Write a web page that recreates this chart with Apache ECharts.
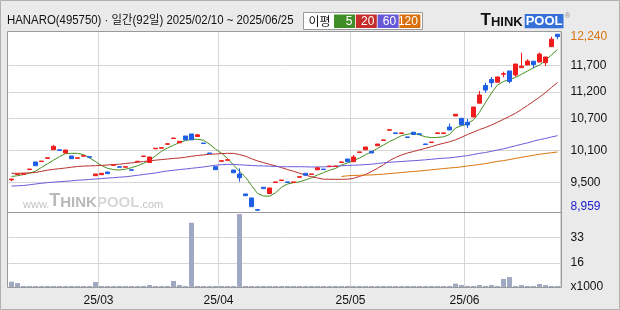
<!DOCTYPE html>
<html><head><meta charset="utf-8">
<script src="https://cdn.jsdelivr.net/npm/echarts@6.0.0/dist/echarts.min.js"></script>
<style>html,body{margin:0;padding:0;background:#eaeaea}#c{width:620px;height:310px}</style>
</head><body><div id="c"></div>
<script>
const titleText = 'HANARO(495750) · 일간(92일) 2025/02/10 ~ 2025/06/25';
const maLegendLabel = '이평';
const maLabels = ['5', '20', '60', '120'];
const dates = ['2025-02-10','2025-02-11','2025-02-12','2025-02-13','2025-02-14','2025-02-17','2025-02-18','2025-02-19','2025-02-20','2025-02-21','2025-02-24','2025-02-25','2025-02-26','2025-02-27','2025-02-28',
'2025-03-04','2025-03-05','2025-03-06','2025-03-07','2025-03-10','2025-03-11','2025-03-12','2025-03-13','2025-03-14','2025-03-17','2025-03-18','2025-03-19','2025-03-20','2025-03-21','2025-03-24','2025-03-25','2025-03-26','2025-03-27','2025-03-28','2025-03-31',
'2025-04-01','2025-04-02','2025-04-03','2025-04-04','2025-04-07','2025-04-08','2025-04-09','2025-04-10','2025-04-11','2025-04-14','2025-04-15','2025-04-16','2025-04-17','2025-04-18','2025-04-21','2025-04-22','2025-04-23','2025-04-24','2025-04-25','2025-04-28','2025-04-29','2025-04-30',
'2025-05-02','2025-05-07','2025-05-08','2025-05-09','2025-05-12','2025-05-13','2025-05-14','2025-05-15','2025-05-16','2025-05-19','2025-05-20','2025-05-21','2025-05-22','2025-05-23','2025-05-26','2025-05-27','2025-05-28','2025-05-29','2025-05-30',
'2025-06-02','2025-06-04','2025-06-05','2025-06-09','2025-06-10','2025-06-11','2025-06-12','2025-06-13','2025-06-16','2025-06-17','2025-06-18','2025-06-19','2025-06-20','2025-06-23','2025-06-24','2025-06-25'];
const opens = [9545,9648,9650,9738,9881,9888,9950,10112,10110,10050,
 9994,9952,9990,9980,9623,9642,9693,9818,9792,9783,
 9735,9885,9983,9871,10130,10140,10214,10322,10242,10370,
 10408,10360,10238,10050,9792,9895,9913,9730,9655,9279,
 9204,8985,9405,9288,9496,9532,9506,9496,9594,9668,
 9646,9734,9748,9795,9795,9872,9937,9885,10060,10110,
 10082,10186,10286,10478,10428,10418,10352,10441,10412,10220,
 10246,10418,10418,10539,10746,10703,10629,10727,10987,11320,
 11433,11382,11532,11593,11517,11655,11705,11777,11762,11749,
 12050,12285];
const closes = [9560,9658,9660,9748,9811,9898,9960,10176,10100,10106,
 9943,9960,10000,9970,9655,9668,9661,9826,9782,9792,
 9725,9895,9993,9975,10140,10150,10224,10332,10270,10298,
 10298,10392,10228,10040,9736,9905,9923,9678,9584,9247,
 9040,8975,9379,9392,9506,9542,9496,9506,9604,9632,
 9656,9772,9738,9805,9805,9882,9885,9975,10070,10163,
 10050,10219,10296,10488,10418,10428,10342,10398,10402,10210,
 10256,10428,10428,10483,10778,10577,10577,10915,11141,11235,
 11372,11480,11542,11395,11724,11683,11780,11715,11912,11856,
 12190,12240];
const lows = [9518,9648,9650,9738,9811,9888,9950,10112,10100,10050,
 9943,9952,9990,9970,9623,9642,9661,9818,9782,9783,
 9725,9885,9983,9871,10130,10140,10214,10322,10242,10298,
 10298,10360,10228,10040,9736,9895,9913,9678,9510,9247,
 9040,8959,9379,9288,9496,9532,9496,9496,9594,9632,
 9646,9734,9738,9795,9795,9872,9885,9885,10060,10110,
 10050,10186,10286,10478,10418,10418,10342,10398,10402,10210,
 10246,10418,10418,10483,10746,10577,10520,10727,10987,11184,
 11286,11382,11474,11361,11485,11655,11705,11643,11762,11687,
 12050,12189];
const highs = [9562,9658,9660,9748,9881,9898,9960,10200,10110,10106,
 9994,9960,10000,9980,9655,9668,9693,9826,9792,9792,
 9735,9895,9993,9975,10140,10150,10224,10332,10270,10370,
 10408,10407,10238,10050,9792,9905,9923,9730,9762,9279,
 9204,8985,9405,9392,9506,9542,9506,9506,9604,9668,
 9656,9772,9748,9805,9805,9882,9937,10012,10070,10163,
 10082,10219,10296,10488,10428,10428,10352,10441,10412,10220,
 10256,10428,10428,10605,10778,10703,10690,10915,11216,11372,
 11480,11480,11579,11593,11724,11937,11813,11777,11937,11856,
 12238,12285];
const volumes = [3.5,2.6,0.7,0.7,0.7,0.7,0.7,0.7,0.7,0.7,
 0.7,0.7,0.7,0.7,3.3,0.7,0.7,0.7,0.7,0.7,
 0.7,0.7,0.7,1.3,0.7,0.7,0.7,4.0,1.3,0.7,
 42.6,0.7,0.7,0.7,0.7,0.7,0.7,0.7,48.3,0.7,
 0.7,0.7,0.7,0.7,0.7,0.7,0.7,0.7,0.7,0.7,
 0.7,0.7,0.7,0.7,0.7,0.7,0.7,0.7,0.7,0.7,
 0.7,0.7,0.7,0.7,0.7,0.7,0.7,0.7,0.7,0.7,
 0.7,0.7,0.7,0.7,2.2,1.3,0.7,0.7,1.3,0.7,
 1.3,0.7,5.3,6.6,0.7,1.3,0.7,0.7,2.0,1.3,
 0.7,0.7];
const ma5 = [9608,9623,9644,9670,9708,9779,9847,9915,9982,10037,
 10044,10044,10020,9958,9888,9815,9762,9738,9730,9745,
 9775,9809,9856,9911,9997,10082,10144,10195,10249,10283,
 10308,10308,10291,10216,10125,10046,9947,9824,9706,9595,
 9439,9290,9241,9237,9301,9405,9467,9491,9508,9542,
 9584,9636,9681,9726,9759,9824,9862,9909,9956,10016,
 10073,10135,10201,10266,10317,10377,10404,10421,10389,10355,
 10338,10344,10353,10398,10520,10564,10599,10675,10816,11000,
 11179,11329,11395,11436,11470,11530,11592,11656,11702,11794,
 11897,11997];
const ma20 = [9668,9668,9672,9676,9683,9706,9727,9743,9755,9768,
 9783,9796,9804,9807,9811,9817,9824,9834,9839,9853,
 9864,9875,9890,9903,9915,9926,9937,9948,9956,9971,
 9988,10003,10014,10026,10031,10039,10044,10043,10020,9990,
 9943,9901,9869,9836,9809,9775,9738,9706,9670,9633,
 9603,9580,9557,9555,9555,9555,9557,9574,9610,9644,
 9702,9762,9830,9907,9965,10012,10050,10078,10110,10138,
 10170,10204,10233,10261,10298,10346,10398,10442,10490,10530,
 10577,10628,10684,10739,10797,10868,10944,11023,11100,11188,
 11282,11376];
const ma60 = [9429,9433,9439,9452,9467,9480,9493,9501,9510,9518,
 9527,9537,9544,9552,9561,9569,9578,9586,9595,9602,
 9616,9631,9646,9659,9674,9695,9713,9725,9738,9749,
 9762,9775,9787,9804,9819,9830,9836,9836,9828,9821,
 9815,9809,9806,9802,9796,9792,9792,9792,9792,9790,
 9787,9787,9790,9792,9802,9809,9815,9821,9824,9832,
 9839,9853,9866,9875,9883,9890,9898,9905,9913,9922,
 9932,9943,9952,9958,9971,9986,10001,10022,10044,10059,
 10082,10106,10129,10157,10186,10214,10240,10272,10302,10323,
 10351,10376];
const ma120Start = '2025-04-29';
const ma120 = [9608,9621,9627,9631,9634,9638,9644,9653,9663,9672,
 9682,9693,9702,9712,9723,9734,9745,9757,9768,9777,
 9790,9805,9819,9834,9851,9871,9892,9907,9926,9948,
 9969,9988,10007,10026,10041,10056,10069];
const priceGridTicks = [11700, 11200, 10700, 10100, 9500];
const volGridTicks = [33, 16];
const volUnitLabel = 'x1000';

const C_UP = '#f01c1c', C_DOWN = '#1f5ee6';
const C_MA = ['#45901f', '#b8302c', '#6a5ad8', '#d9730d'];
const C_BOX = ['#3f8d27', '#c42d2a', '#6658d8', '#d8700c'];
const GRIDC = '#d6d6d6';
const LATIN = '"Liberation Sans", Arial, sans-serif';
const KFONT = '"Liberation Sans", "Noto Sans CJK KR", sans-serif';

const lastClose = closes[closes.length - 1];
const minLow = Math.min(...lows);
const candleData = opens.map((o, i) => [o, closes[i], lows[i], highs[i]]);
const s120 = dates.indexOf(ma120Start);
const ma120Data = ma120.map((v, k) => [dates[s120 + k], v]);
const isMonthStart = (idx) => idx > 0 && dates[idx].slice(5, 7) !== dates[idx - 1].slice(5, 7);
const fmtPrice = v => {
  const s = Number(v).toLocaleString('en-US');
  if (v === lastClose) return '{cur|' + s + '}';
  if (v === minLow) return '{low|' + s + '}';
  return s;
};

const chart = echarts.init(document.getElementById('c'), null, {renderer: 'canvas', width: 620, height: 310});
const legendEls = [];
maLabels.forEach((t, k) => {
  const bx = 334 + k * 21.8;
  legendEls.push({type: 'rect', z: 50, shape: {x: bx, y: 14.5, width: 21, height: 13.5}, style: {fill: C_BOX[k]}});
  legendEls.push({type: 'text', z: 51, x: bx + 18.5, y: 21.5, style: {text: t, font: '12px ' + LATIN, fill: '#fff', align: 'right', verticalAlign: 'middle'}});
});

chart.setOption({
  animation: false,
  backgroundColor: '#eaeaea',
  grid: [
    {left: 8.5, width: 552, top: 31, height: 181},
    {left: 8.5, width: 552, top: 212, height: 75}
  ],
  xAxis: [
    {type: 'category', gridIndex: 0, data: dates, boundaryGap: true,
     axisLine: {show: false}, axisTick: {show: false}, axisLabel: {show: false},
     splitLine: {show: true, interval: isMonthStart, lineStyle: {color: GRIDC, width: 1}}},
    {type: 'category', gridIndex: 1, data: dates, boundaryGap: true,
     axisLine: {show: false}, axisTick: {show: false},
     axisLabel: {show: true, interval: isMonthStart, formatter: v => v.slice(2, 4) + '/' + v.slice(5, 7),
       color: '#111', fontSize: 12, fontFamily: LATIN, margin: 8, padding: [0, 6, 0, 0]},
     splitLine: {show: true, interval: isMonthStart, lineStyle: {color: GRIDC, width: 1}}}
  ],
  yAxis: [
    {type: 'value', gridIndex: 0, position: 'right', min: 8940, max: 12345,
     axisLine: {show: false}, axisTick: {show: false, customValues: priceGridTicks},
     axisLabel: {customValues: [lastClose].concat(priceGridTicks, [minLow]), formatter: fmtPrice,
       color: '#111', fontSize: 12, fontFamily: LATIN, margin: 10, align: 'left',
       rich: {cur: {color: '#d9730d', fontSize: 12, fontFamily: LATIN},
              low: {color: '#1a1ad0', fontSize: 12, fontFamily: LATIN, padding: [0, 0, 8, 0]}}},
     splitLine: {show: true, lineStyle: {color: GRIDC, width: 1}}},
    {type: 'value', gridIndex: 1, position: 'right', min: 0, max: 49.7,
     axisLine: {show: false}, axisTick: {show: false, customValues: volGridTicks},
     axisLabel: {customValues: [0].concat(volGridTicks), formatter: v => v === 0 ? volUnitLabel : String(v),
       color: '#111', fontSize: 12, fontFamily: LATIN, margin: 10, align: 'left'},
     splitLine: {show: true, lineStyle: {color: GRIDC, width: 1}}}
  ],
  series: [
    {type: 'line', name: 'MA5', data: ma5, showSymbol: false, silent: true, lineStyle: {color: C_MA[0], width: 1}, z: 2},
    {type: 'line', name: 'MA20', data: ma20, showSymbol: false, silent: true, lineStyle: {color: C_MA[1], width: 1}, z: 2},
    {type: 'line', name: 'MA60', data: ma60, showSymbol: false, silent: true, lineStyle: {color: C_MA[2], width: 1}, z: 2},
    {type: 'line', name: 'MA120', data: ma120Data, showSymbol: false, silent: true, lineStyle: {color: C_MA[3], width: 1}, z: 2},
    {type: 'candlestick', data: candleData, barWidth: 4, silent: true, z: 3,
     itemStyle: {color: C_UP, color0: C_DOWN, borderColor: C_UP, borderColor0: C_DOWN, borderWidth: 1}},
    {type: 'bar', xAxisIndex: 1, yAxisIndex: 1, data: volumes, barWidth: 5, silent: true,
     itemStyle: {color: '#a0a9c2'}}
  ],
  graphic: {elements: [
    {type: 'rect', z: -10, silent: true, shape: {x: 7.5, y: 31.5, width: 554, height: 256}, style: {fill: '#ffffff'}},
    {type: 'text', z: -5, silent: true, x: 23, y: 210,
     style: {text: '{w|www.}{t|T}{h|HINK}{p|POOL}{c|.com}', verticalAlign: 'bottom',
       rich: {w: {fontSize: 11, fontFamily: LATIN, fill: '#c4c4c4', verticalAlign: 'bottom'},
              t: {fontSize: 18, fontWeight: 'bold', fontFamily: LATIN, fill: '#b9b9b9', verticalAlign: 'bottom'},
              h: {fontSize: 15, fontWeight: 'bold', fontFamily: LATIN, fill: '#b9b9b9', verticalAlign: 'bottom'},
              p: {fontSize: 15, fontWeight: 'bold', fontFamily: LATIN, fill: '#d8d8d8', verticalAlign: 'bottom'},
              c: {fontSize: 11, fontFamily: LATIN, fill: '#c4c4c4', verticalAlign: 'bottom'}}}},
    {type: 'rect', z: 100, silent: true, shape: {x: 7.5, y: 31.5, width: 554, height: 256}, style: {fill: null, stroke: '#9a9a9a', lineWidth: 1}},
    {type: 'line', z: 100, silent: true, shape: {x1: 7.5, y1: 212.5, x2: 561.5, y2: 212.5}, style: {stroke: '#9a9a9a', lineWidth: 1}},
    {type: 'rect', z: 100, silent: true, shape: {x: 0.5, y: 0.5, width: 619, height: 309}, style: {fill: null, stroke: '#b0b0b0', lineWidth: 1}},
    {type: 'text', z: 50, x: 7, y: 21, scaleX: 0.95, style: {text: titleText, font: '12px ' + KFONT, fill: '#111', verticalAlign: 'middle'}},
    {type: 'rect', z: 49, shape: {x: 303.5, y: 12.5, width: 119, height: 17}, style: {fill: '#fff', stroke: '#9a9a9a', lineWidth: 1}},
    {type: 'text', z: 50, x: 308.5, y: 21, style: {text: maLegendLabel, font: '12px "Noto Sans CJK KR", sans-serif', fill: '#111', verticalAlign: 'middle'}},
    ...legendEls,
    {type: 'text', z: 50, x: 480.5, y: 28.5,
     style: {text: '{t|T}{h|HINK}', verticalAlign: 'bottom',
       rich: {t: {fontSize: 17, fontWeight: 'bold', fontFamily: LATIN, fill: '#111', verticalAlign: 'bottom'},
              h: {fontSize: 13, fontWeight: 'bold', fontFamily: LATIN, fill: '#111', verticalAlign: 'bottom'}}}},
    {type: 'rect', z: 50, shape: {x: 524.7, y: 14, width: 38.8, height: 14.3}, style: {fill: '#3570d9'}},
    {type: 'text', z: 51, x: 544.1, y: 21.5, style: {text: 'POOL', font: 'bold 13px ' + LATIN, fill: '#fff', align: 'center', verticalAlign: 'middle'}},
    {type: 'text', z: 51, x: 565, y: 16, style: {text: '®', font: '7px ' + LATIN, fill: '#888', verticalAlign: 'middle'}}
  ]}
});
</script>
</body></html>
